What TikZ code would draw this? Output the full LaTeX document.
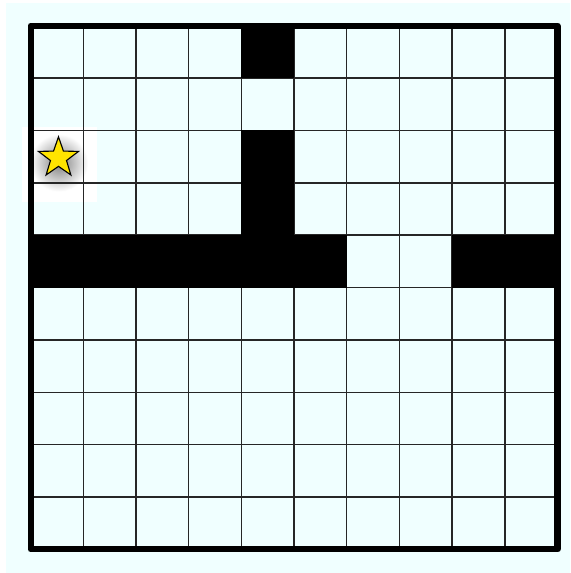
\documentclass[tikz,border=0pt]{standalone}
\usepackage{tikz}
\usetikzlibrary{shapes.geometric}

\definecolor{azure}{HTML}{F0FFFF}
\definecolor{staryellow}{HTML}{FFE400}

\begin{document}
\begin{tikzpicture}[x=1cm, y=-0.994cm,
    wall/.style={fill=black},
    gridline/.style={line width=0.8pt, black!85},
    border/.style={line width=3.3pt, line join=round}]
  % Page and background
  \fill[white] (-0.58,-0.49) rectangle (10.24,10.45);
  \fill[azure] (-0.465,-0.43) rectangle (10.24,10.45);
  \useasboundingbox (-0.58,-0.49) rectangle (10.24,10.45);

  % Light square behind the star, with its soft shadow
  \fill[white] (-0.167,1.93) rectangle (1.256,3.36);
  \begin{scope}
    \clip (-0.167,1.93) rectangle (1.256,3.36);
    \shade[inner color=black!50, outer color=white] (0.54,2.62) circle (0.55);
  \end{scope}

  % Grid lines
  \foreach \i in {1,...,9} {
    \draw[gridline] (\i,0) -- (\i,10);
    \draw[gridline] (0,\i) -- (10,\i);
  }

  % Walls
  \fill[wall] (4,0) rectangle (5,1);
  \fill[wall] (4,2) rectangle (5,4);
  \fill[wall] (0,4) rectangle (6,5);
  \fill[wall] (8,4) rectangle (10,5);

  % Outer border
  \draw[border] (0,0) rectangle (10,10);

  % Start marker
  \node[star, star points=5, star point ratio=2.5, minimum size=0.8cm,
        inner sep=0pt, fill=staryellow, draw=black, line width=0.6pt]
    (start) at (0.53,2.525) {};
\end{tikzpicture}
\end{document}
